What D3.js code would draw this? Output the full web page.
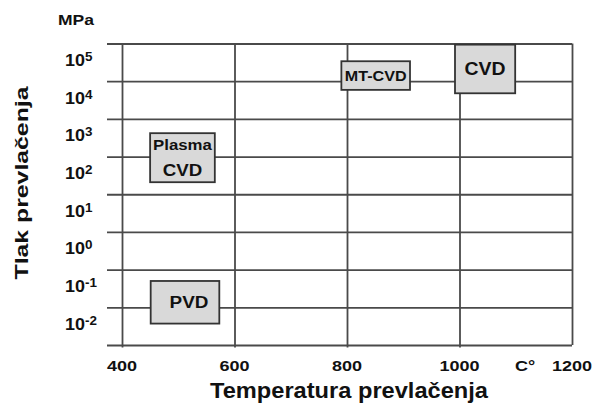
<!DOCTYPE html>
<html><head><meta charset="utf-8">
<script src="https://cdn.jsdelivr.net/npm/d3@7"></script>
<style>body{margin:0;background:#fff}svg{display:block}text{font-family:"Liberation Sans",Arial,sans-serif;fill:#111}</style>
</head><body><svg id="c" width="599" height="412"></svg>
<script>
// ---- data ----
const processes = ["Plasma CVD", "MT-CVD", "CVD", "PVD"];
const tempMin = [450, 790, 992, 451];        // °C
const tempMax = [565, 912, 1099, 573];       // °C
const pressMin = [66, 18600, 15100, 0.0117];  // MPa
const pressMax = [1320, 107000, 295000, 0.158];
const xTicks = [400, 600, 800, 1000, 1200];
const yExponents = [5, 4, 3, 2, 1, 0, -1, -2];
const xTitle = "Temperatura prevlačenja";
const yTitle = "Tlak prevlačenja";

const svg = d3.select("#c");
const x = d3.scaleLinear().domain([400, 1200]).range([122, 572]);
const y = d3.scaleLog().domain([Math.pow(10, -2.5), Math.pow(10, 5.5)]).range([345, 43.5]);
const lineCol = "#4a4a4a", lw = 1.8;

function stretch(sel, f) {
  sel.each(function () {
    const w = this.getComputedTextLength();
    d3.select(this).attr("textLength", w * f).attr("lengthAdjust", "spacingAndGlyphs");
  });
}

// horizontal band boundaries (between decade labels)
const bounds = yExponents.map(e => Math.pow(10, e + 0.5)).concat([Math.pow(10, -2.5)]);
const gy = svg.append("g").attr("transform", "translate(572,0)")
  .call(d3.axisLeft(y).tickValues(bounds).tickSize(572 - 107).tickFormat(""));
gy.select(".domain").remove();
gy.selectAll(".tick line").attr("stroke", lineCol).attr("stroke-width", lw);

// vertical lines
const gx = svg.append("g").attr("transform", "translate(0,43.5)")
  .call(d3.axisBottom(x).tickValues(xTicks).tickSize(304).tickFormat(""));
gx.select(".domain").remove();
gx.selectAll(".tick line").attr("stroke", lineCol).attr("stroke-width", lw)
  .attr("y2", d => d === 1200 ? 301.5 : 304);

// x tick labels
const xl = svg.append("g").selectAll("text").data(xTicks).join("text")
  .attr("x", d => x(d)).attr("y", 371).attr("text-anchor", "middle")
  .attr("font-size", 15).attr("font-weight", "bold").text(d => d);
stretch(xl, 1.2);
const cu = svg.append("text").attr("x", 525).attr("y", 371).attr("text-anchor", "middle")
  .attr("font-size", 15).attr("font-weight", "bold").text("C°");
stretch(cu, 1.2);

// y tick labels
const yl = svg.append("g").selectAll("text").data(yExponents).join("text")
  .attr("x", 65).attr("y", d => y(Math.pow(10, d)) + 3.5)
  .attr("font-size", 16).attr("font-weight", "bold");
yl.append("tspan").text("10");
yl.append("tspan").attr("font-size", 12).attr("dy", -5).text(d => d < 0 ? "-" + Math.abs(d) : d);
stretch(yl, 1.12);

const mpa = svg.append("text").attr("x", 76).attr("y", 25).attr("text-anchor", "middle")
  .attr("font-size", 14).attr("font-weight", "bold").text("MPa");
stretch(mpa, 1.25);

// titles
svg.append("text").attr("x", 349).attr("y", 398).attr("text-anchor", "middle")
  .attr("font-size", 22).attr("font-weight", "bold").text(xTitle)
  .attr("textLength", 278).attr("lengthAdjust", "spacingAndGlyphs");
svg.append("text").attr("transform", "translate(28,183) rotate(-90)").attr("text-anchor", "middle")
  .attr("font-size", 18).attr("font-weight", "bold").text(yTitle)
  .attr("textLength", 193).attr("lengthAdjust", "spacingAndGlyphs");

// process boxes
const boxes = svg.append("g").selectAll("g").data(processes).join("g");
boxes.append("rect")
  .attr("x", (d, i) => x(tempMin[i])).attr("width", (d, i) => x(tempMax[i]) - x(tempMin[i]))
  .attr("y", (d, i) => y(pressMax[i])).attr("height", (d, i) => y(pressMin[i]) - y(pressMax[i]))
  .attr("fill", "#d9d9d9").attr("stroke", "#333").attr("stroke-width", 1.8);

function cx(i) { return (x(tempMin[i]) + x(tempMax[i])) / 2; }
function cy(i) { return (y(pressMin[i]) + y(pressMax[i])) / 2; }
// Plasma CVD (two lines)
const t1 = svg.append("text").attr("x", cx(0)).attr("y", cy(0) - 8).attr("text-anchor", "middle")
  .attr("font-size", 14).attr("font-weight", "bold").text("Plasma");
const t2 = svg.append("text").attr("x", cx(0)).attr("y", cy(0) + 18).attr("text-anchor", "middle")
  .attr("font-size", 17).attr("font-weight", "bold").text("CVD");
const t3 = svg.append("text").attr("x", cx(1)).attr("y", cy(1) + 5).attr("text-anchor", "middle")
  .attr("font-size", 14).attr("font-weight", "bold").text(processes[1]);
const t4 = svg.append("text").attr("x", cx(2)).attr("y", cy(2) + 6).attr("text-anchor", "middle")
  .attr("font-size", 18.5).attr("font-weight", "bold").text(processes[2]);
const t5 = svg.append("text").attr("x", cx(3) + 4).attr("y", cy(3) + 6).attr("text-anchor", "middle")
  .attr("font-size", 16).attr("font-weight", "bold").text(processes[3]);
stretch(t1, 1.2); stretch(t2, 1.1); stretch(t3, 1.15); stretch(t4, 1.05); stretch(t5, 1.18);
</script></body></html>
